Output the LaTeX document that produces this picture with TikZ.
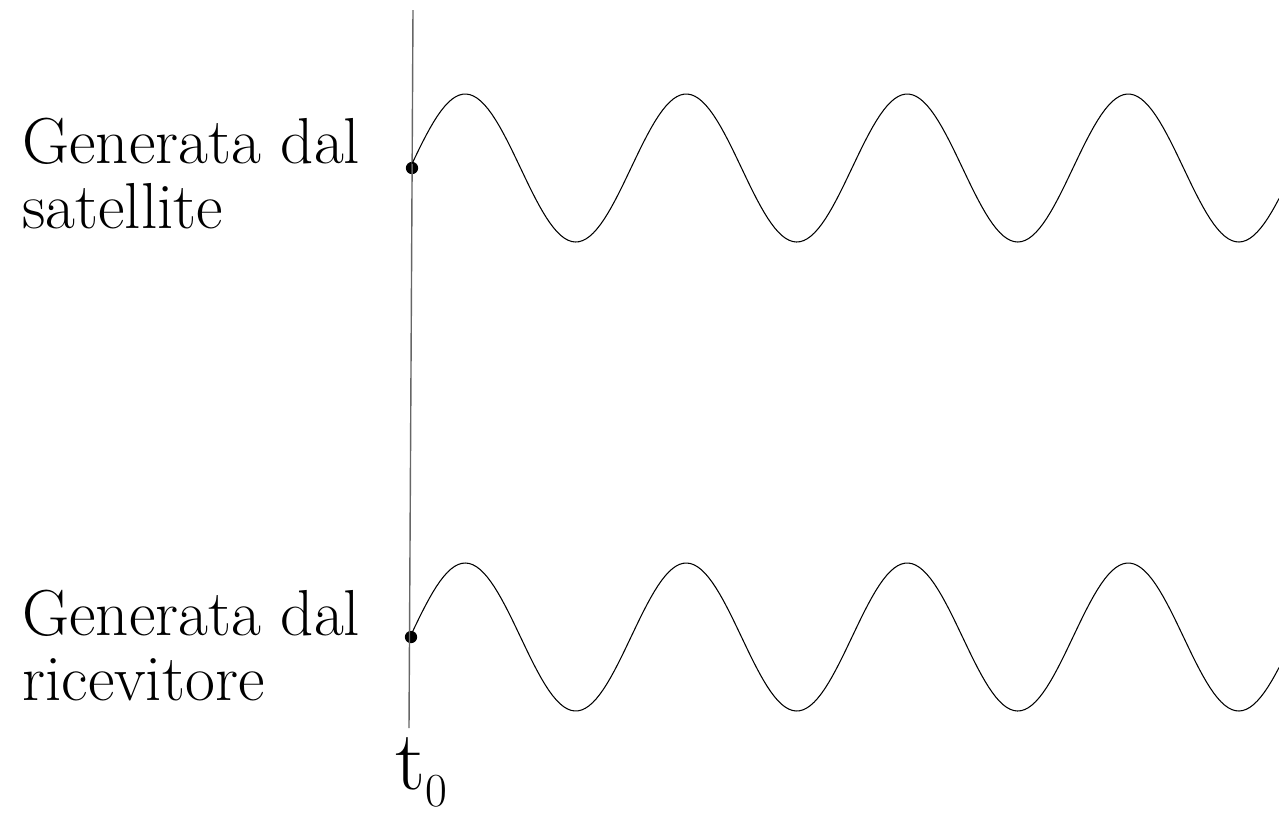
\documentclass[tikz,border=0pt]{standalone}
\usetikzlibrary{positioning}
\begin{document}
\begin{tikzpicture}[x=0.02cm,y=-0.02cm]
            \useasboundingbox (0,0) rectangle (1279,816);
            \begin{scope}[lbl/.style={anchor=north west, align=left, inner sep=0pt, font=\fontsize{37}{37}\selectfont},
                          dot/.style={circle, fill=black, inner sep=0pt, minimum size=7pt},
                          wave/.style={black, line width=0.6pt}]
                \node(sat) at (22,118) [lbl]{Generata dal\\satellite};
                \node(ric) at (22,590) [lbl]{Generata dal\\ricevitore};
                %%%
                \coordinate(top) at (413,10);
                \coordinate(bot) at (409,728);
                \node(d1) at (412,168) [dot]{};
                \node(d2) at (411,637) [dot]{};
                \node(t0) at (421,772) [inner sep=0pt] {\fontsize{48}{50}\selectfont t\raisebox{-0.2em}{\fontsize{27}{30}\selectfont 0}};
                %%%
                \draw[gray!80!black, line width=0.8pt] (top) -- (bot);
                %
                \draw[wave] (d1.center) plot[domain=412:1279, samples=240] (\x, {168-74*sin((\x-410)/221*360)});
                \draw[wave] (d2.center) plot[domain=411:1279, samples=240] (\x, {637-74*sin((\x-410)/221*360)});
            \end{scope}
        \end{tikzpicture}
\end{document}
